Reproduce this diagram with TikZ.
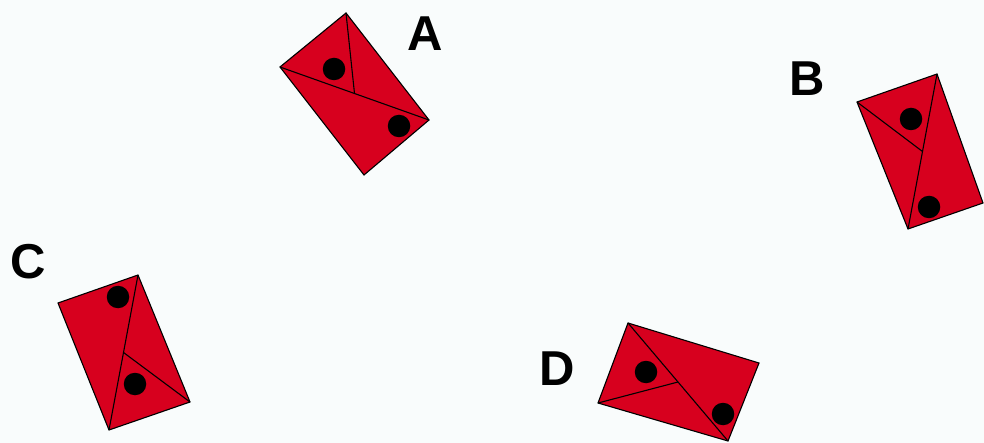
\documentclass[tikz,border=0pt]{standalone}
\usepackage{fontspec}
\setmainfont{Liberation Sans}
\usepackage{xcolor}
\usetikzlibrary{calc}
\definecolor{cardred}{RGB}{215,0,30}
\definecolor{paper}{RGB}{249,252,252}

\begin{document}
\begin{tikzpicture}[
  x=1pt, y=-1pt,
  card/.style={fill=cardred, draw=black, line width=1.1pt, line join=miter},
  fold/.style={draw=black, line width=1.1pt},
  dot/.style={circle, fill=black, minimum size=22.5pt, inner sep=0pt},
  letter/.style={font=\fontsize{49}{49}\selectfont\bfseries},
]
\fill[paper] (0,0) rectangle (984,443);
\useasboundingbox (0,0) rectangle (984,443);

% Card A
\coordinate (a1) at (346,13);
\coordinate (a2) at (429,120);
\coordinate (a3) at (364,175);
\coordinate (a4) at (280,67);
\draw[card] (a1) -- (a2) -- (a3) -- (a4) -- cycle;
\draw[fold] (a4) -- (a2);
\draw[fold] (a1) -- ($(a4)!0.5!(a2)$);
\node[dot] (adot1) at (334,69) {};
\node[dot] (adot2) at (399,126) {};
\node[letter] (la) at (425,34) {A};

% Card B
\coordinate (b1) at (857,102);
\coordinate (b2) at (937,74);
\coordinate (b3) at (983,203);
\coordinate (b4) at (908,229);
\draw[card] (b1) -- (b2) -- (b3) -- (b4) -- cycle;
\draw[fold] (b2) -- (b4);
\draw[fold] (b1) -- ($(b2)!0.5!(b4)$);
\node[dot] (bdot1) at (911,119) {};
\node[dot] (bdot2) at (929,207) {};
\node[letter] (lb) at (807,79) {B};

% Card C
\coordinate (c1) at (58,303);
\coordinate (c2) at (138,275);
\coordinate (c3) at (190,402);
\coordinate (c4) at (109,430);
\draw[card] (c1) -- (c2) -- (c3) -- (c4) -- cycle;
\draw[fold] (c2) -- (c4);
\draw[fold] (c3) -- ($(c2)!0.5!(c4)$);
\node[dot] (cdot1) at (118,297) {};
\node[dot] (cdot2) at (135,384) {};
\node[letter] (lc) at (28,262) {C};

% Card D
\coordinate (d1) at (628,323);
\coordinate (d2) at (759,363);
\coordinate (d3) at (728,441);
\coordinate (d4) at (598,403);
\draw[card] (d1) -- (d2) -- (d3) -- (d4) -- cycle;
\draw[fold] (d1) -- (d3);
\draw[fold] (d4) -- ($(d1)!0.5!(d3)$);
\node[dot] (ddot1) at (646,372) {};
\node[dot] (ddot2) at (723,414) {};
\node[letter] (ld) at (557,369) {D};

\end{tikzpicture}
\end{document}
